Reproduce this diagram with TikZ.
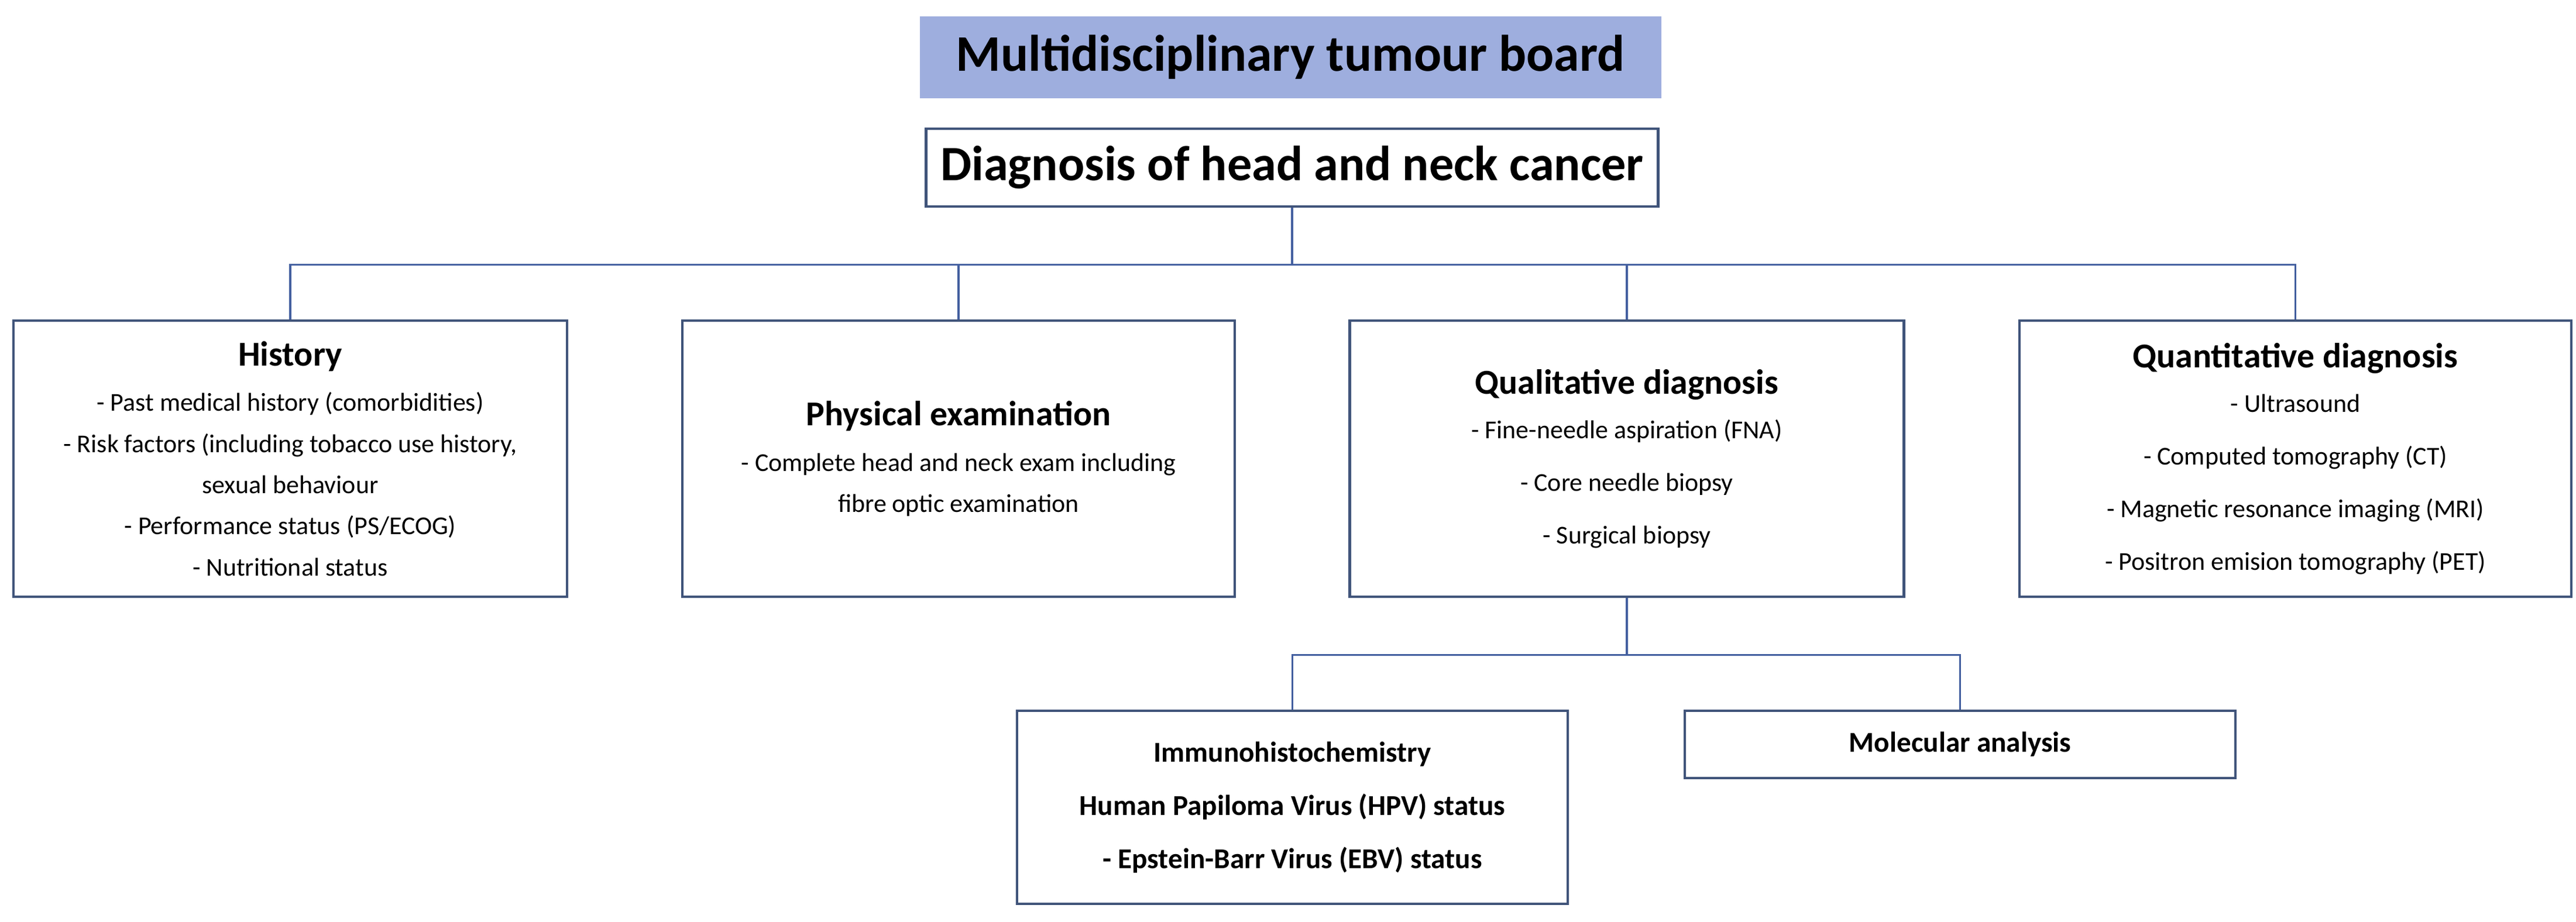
\documentclass[tikz,border=0pt]{standalone}
\usepackage{fontspec}
\setmainfont{Carlito}
\usetikzlibrary{positioning}
\definecolor{boxline}{RGB}{64,84,122}
\definecolor{linkline}{RGB}{68,96,160}
\definecolor{titlefill}{RGB}{158,174,222}

\begin{document}
\begin{tikzpicture}[
mybox/.style={
  draw=boxline,
  line width=1.3pt,
  fill=white,
  align=center,
  inner sep=0pt
  },
link/.style={draw=linkline, line width=0.9pt}
]
\useasboundingbox (0,0) rectangle (44.02,-15.75);
% top of the tree
\node[fill=titlefill, minimum width=12.67cm, minimum height=1.4cm,
  font=\bfseries\fontsize{25}{30}\selectfont] (board) at (22.05,-0.98) {Multidisciplinary tumour board};
\node[mybox, minimum width=12.51cm, minimum height=1.33cm,
  font=\bfseries\fontsize{24}{30}\selectfont] (diag) at (22.08,-2.865) {Diagnosis of head and neck cancer};
% four branches
\node[mybox, minimum width=9.46cm, minimum height=4.72cm,
  font=\fontsize{12.5}{20}\selectfont] (hist) at (4.96,-7.84)
  {{\bfseries\fontsize{17}{20}\selectfont History}\\[2pt]
   - Past medical history (comorbidities)\\
   - Risk factors (including tobacco use history,\\
   sexual behaviour\\
   - Performance status (PS/ECOG)\\
   - Nutritional status};
\node[mybox, minimum width=9.44cm, minimum height=4.72cm,
  font=\fontsize{12.5}{20}\selectfont] (phys) at (16.38,-7.84)
  {{\bfseries\fontsize{17}{20}\selectfont Physical examination}\\[2pt]
   - Complete head and neck exam including\\
   fibre optic examination};
\node[mybox, minimum width=9.47cm, minimum height=4.72cm,
  font=\fontsize{12.5}{25.6}\selectfont] (qual) at (27.80,-7.84)
  {{\bfseries\fontsize{17}{20}\selectfont Qualitative diagnosis}\\[-4pt]
   - Fine-needle aspiration (FNA)\\
   - Core needle biopsy\\
   - Surgical biopsy};
\node[mybox, minimum width=9.43cm, minimum height=4.72cm,
  font=\fontsize{12.5}{25.6}\selectfont] (quant) at (39.225,-7.84)
  {{\bfseries\fontsize{17}{20}\selectfont Quantitative diagnosis}\\[-4pt]
   - Ultrasound\\
   - Computed tomography (CT)\\
   - Magnetic resonance imaging (MRI)\\
   - Positron emision tomography (PET)};
% below the qualitative box
\node[mybox, minimum width=9.41cm, minimum height=3.3cm,
  font=\bfseries\fontsize{14}{26}\selectfont] (immuno) at (22.085,-13.8)
  {Immunohistochemistry\\
   Human Papiloma Virus (HPV) status\\
   - Epstein-Barr Virus (EBV) status};
\node[mybox, minimum width=9.41cm, minimum height=1.15cm,
  font=\bfseries\fontsize{14}{26}\selectfont] (molec) at (33.495,-12.725) {Molecular analysis};
% connectors
\foreach \n in {hist,phys,qual,quant}
  \draw[link] (diag.south) -- ++(0,-0.97) -| (\n.north);
\foreach \n in {immuno,molec}
  \draw[link] (qual.south) -- ++(0,-0.97) -| (\n.north);
\end{tikzpicture}
\end{document}
